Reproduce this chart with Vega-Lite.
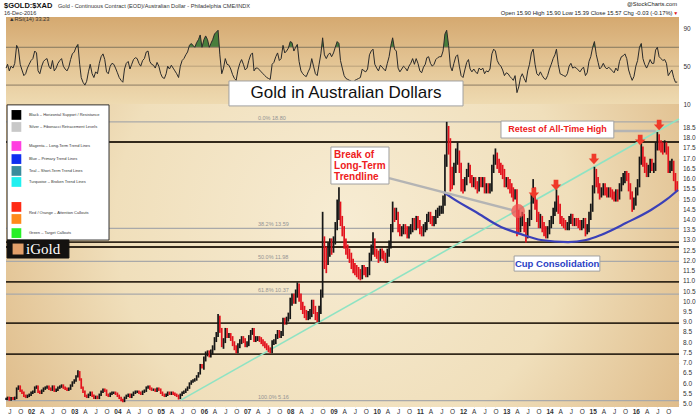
{
"$schema": "https://vega.github.io/schema/vega-lite/v6.json",
"background": "white",
"padding": {"left": 3, "top": 1, "right": 2, "bottom": 0},
"spacing": 0,
"bounds": "flush",
"config": {"font": "Liberation Sans", "view": {"stroke": null}, "axisY": {"labelOverlap": false, "labelSeparation": 0}},
"datasets": {
"px": [
{"d":"2001-06-04","l":5.19,"h":5.31,"u":1,"r":48},{"d":"2001-06-16","l":5.19,"h":5.36,"u":1,"r":52},{"d":"2001-07-01","l":5.16,"h":5.36,"u":0,"r":45},{"d":"2001-07-16","l":5.16,"h":5.34,"u":1,"r":50},{"d":"2001-08-01","l":5.19,"h":5.34,"u":0,"r":48},{"d":"2001-08-16","l":5.19,"h":5.36,"u":1,"r":53},{"d":"2001-09-01","l":5.24,"h":5.81,"u":1,"r":72},{"d":"2001-09-16","l":5.69,"h":5.91,"u":1,"r":68},{"d":"2001-10-01","l":5.59,"h":5.91,"u":0,"r":52},{"d":"2001-10-16","l":5.49,"h":5.71,"u":0,"r":46},{"d":"2001-11-01","l":5.34,"h":5.61,"u":0,"r":40},{"d":"2001-11-16","l":5.29,"h":5.46,"u":0,"r":42},{"d":"2001-12-01","l":5.29,"h":5.46,"u":1,"r":48},{"d":"2001-12-16","l":5.34,"h":5.51,"u":1,"r":52},
{"d":"2002-01-01","l":5.39,"h":5.61,"u":1,"r":56},{"d":"2002-01-16","l":5.49,"h":5.66,"u":1,"r":58},{"d":"2002-02-01","l":5.54,"h":5.86,"u":1,"r":66},{"d":"2002-02-16","l":5.74,"h":5.91,"u":1,"r":64},{"d":"2002-03-01","l":5.54,"h":5.91,"u":0,"r":45},{"d":"2002-03-16","l":5.49,"h":5.66,"u":0,"r":42},{"d":"2002-04-01","l":5.49,"h":5.71,"u":1,"r":50},{"d":"2002-04-16","l":5.59,"h":5.81,"u":1,"r":55},{"d":"2002-05-01","l":5.69,"h":5.86,"u":1,"r":57},{"d":"2002-05-16","l":5.74,"h":5.91,"u":1,"r":58},{"d":"2002-06-01","l":5.69,"h":5.91,"u":0,"r":50},{"d":"2002-06-16","l":5.64,"h":5.81,"u":0,"r":47},{"d":"2002-07-01","l":5.64,"h":5.91,"u":1,"r":56},{"d":"2002-07-16","l":5.59,"h":5.91,"u":0,"r":45},{"d":"2002-08-01","l":5.59,"h":5.76,"u":1,"r":48},{"d":"2002-08-16","l":5.64,"h":5.86,"u":1,"r":53},{"d":"2002-09-01","l":5.74,"h":5.91,"u":1,"r":56},{"d":"2002-09-16","l":5.79,"h":5.96,"u":1,"r":58},{"d":"2002-10-01","l":5.74,"h":5.96,"u":0,"r":50},{"d":"2002-10-16","l":5.69,"h":5.86,"u":0,"r":47},{"d":"2002-11-01","l":5.64,"h":5.81,"u":0,"r":45},{"d":"2002-11-16","l":5.64,"h":5.81,"u":1,"r":49},{"d":"2002-12-01","l":5.69,"h":5.96,"u":1,"r":57},{"d":"2002-12-16","l":5.84,"h":6.11,"u":1,"r":63},
{"d":"2003-01-01","l":5.99,"h":6.21,"u":1,"r":65},{"d":"2003-01-16","l":6.09,"h":6.41,"u":1,"r":70},{"d":"2003-02-01","l":6.29,"h":6.65,"u":1,"r":73},{"d":"2003-02-16","l":6.14,"h":6.61,"u":0,"r":52},{"d":"2003-03-01","l":5.74,"h":6.26,"u":0,"r":38},{"d":"2003-03-16","l":5.54,"h":5.86,"u":0,"r":33},{"d":"2003-04-01","l":5.34,"h":5.66,"u":0,"r":30},{"d":"2003-04-16","l":5.29,"h":5.46,"u":0,"r":34},{"d":"2003-05-01","l":5.29,"h":5.51,"u":1,"r":44},{"d":"2003-05-16","l":5.39,"h":5.61,"u":1,"r":52},{"d":"2003-06-01","l":5.34,"h":5.61,"u":0,"r":42},{"d":"2003-06-16","l":5.24,"h":5.46,"u":0,"r":38},{"d":"2003-07-01","l":5.24,"h":5.41,"u":1,"r":44},{"d":"2003-07-16","l":5.24,"h":5.41,"u":0,"r":42},{"d":"2003-08-01","l":5.24,"h":5.51,"u":1,"r":53},{"d":"2003-08-16","l":5.39,"h":5.66,"u":1,"r":60},{"d":"2003-09-01","l":5.54,"h":5.76,"u":1,"r":63},{"d":"2003-09-16","l":5.59,"h":5.76,"u":0,"r":57},{"d":"2003-10-01","l":5.39,"h":5.71,"u":0,"r":44},{"d":"2003-10-16","l":5.34,"h":5.51,"u":0,"r":42},{"d":"2003-11-01","l":5.34,"h":5.56,"u":1,"r":50},{"d":"2003-11-16","l":5.44,"h":5.61,"u":1,"r":53},{"d":"2003-12-01","l":5.49,"h":5.61,"u":1,"r":52},{"d":"2003-12-16","l":5.44,"h":5.61,"u":0,"r":48},
{"d":"2004-01-01","l":5.34,"h":5.56,"u":0,"r":43},{"d":"2004-01-16","l":5.24,"h":5.46,"u":0,"r":38},{"d":"2004-02-01","l":5.14,"h":5.36,"u":0,"r":35},{"d":"2004-02-16","l":5.09,"h":5.26,"u":0,"r":33},{"d":"2004-03-01","l":5.09,"h":5.36,"u":1,"r":47},{"d":"2004-03-16","l":5.24,"h":5.46,"u":1,"r":53},{"d":"2004-04-01","l":5.34,"h":5.51,"u":1,"r":55},{"d":"2004-04-16","l":5.29,"h":5.51,"u":0,"r":47},{"d":"2004-05-01","l":5.29,"h":5.51,"u":1,"r":52},{"d":"2004-05-16","l":5.39,"h":5.61,"u":1,"r":57},{"d":"2004-06-01","l":5.49,"h":5.66,"u":1,"r":59},{"d":"2004-06-16","l":5.54,"h":5.66,"u":1,"r":58},{"d":"2004-07-01","l":5.49,"h":5.66,"u":0,"r":53},{"d":"2004-07-16","l":5.44,"h":5.61,"u":0,"r":50},{"d":"2004-08-01","l":5.44,"h":5.66,"u":1,"r":56},{"d":"2004-08-16","l":5.54,"h":5.71,"u":1,"r":58},{"d":"2004-09-01","l":5.59,"h":5.86,"u":1,"r":65},{"d":"2004-09-16","l":5.74,"h":5.91,"u":1,"r":66},{"d":"2004-10-01","l":5.69,"h":5.91,"u":0,"r":55},{"d":"2004-10-16","l":5.64,"h":5.81,"u":0,"r":52},{"d":"2004-11-01","l":5.64,"h":5.76,"u":1,"r":51},{"d":"2004-11-16","l":5.59,"h":5.76,"u":0,"r":48},{"d":"2004-12-01","l":5.59,"h":5.81,"u":1,"r":54},{"d":"2004-12-16","l":5.64,"h":5.81,"u":0,"r":50},
{"d":"2005-01-01","l":5.49,"h":5.76,"u":0,"r":42},{"d":"2005-01-16","l":5.39,"h":5.61,"u":0,"r":38},{"d":"2005-02-01","l":5.34,"h":5.51,"u":0,"r":37},{"d":"2005-02-16","l":5.34,"h":5.51,"u":1,"r":42},{"d":"2005-03-01","l":5.39,"h":5.61,"u":1,"r":50},{"d":"2005-03-16","l":5.44,"h":5.61,"u":0,"r":47},{"d":"2005-04-01","l":5.44,"h":5.61,"u":1,"r":51},{"d":"2005-04-16","l":5.44,"h":5.61,"u":0,"r":48},{"d":"2005-05-01","l":5.39,"h":5.56,"u":0,"r":45},{"d":"2005-05-16","l":5.34,"h":5.51,"u":0,"r":42},{"d":"2005-06-01","l":5.22,"h":5.46,"u":0,"r":38},{"d":"2005-06-16","l":5.24,"h":5.51,"u":1,"r":50},{"d":"2005-07-01","l":5.39,"h":5.61,"u":1,"r":56},{"d":"2005-07-16","l":5.49,"h":5.66,"u":1,"r":58},{"d":"2005-08-01","l":5.54,"h":5.76,"u":1,"r":62},{"d":"2005-08-16","l":5.64,"h":5.86,"u":1,"r":65},{"d":"2005-09-01","l":5.74,"h":6.06,"u":1,"r":72},{"d":"2005-09-16","l":5.94,"h":6.16,"u":1,"r":74},{"d":"2005-10-01","l":6.04,"h":6.21,"u":1,"r":72},{"d":"2005-10-16","l":6.09,"h":6.26,"u":1,"r":70},{"d":"2005-11-01","l":6.14,"h":6.41,"u":1,"r":75},{"d":"2005-11-16","l":6.29,"h":6.56,"u":1,"r":78},{"d":"2005-12-01","l":6.44,"h":6.96,"u":1,"r":83},{"d":"2005-12-16","l":6.74,"h":6.96,"u":0,"r":70},
{"d":"2006-01-01","l":6.68,"h":7.32,"u":1,"r":78},{"d":"2006-01-16","l":7.08,"h":7.57,"u":1,"r":82},{"d":"2006-02-01","l":7.33,"h":7.62,"u":1,"r":78},{"d":"2006-02-16","l":7.28,"h":7.62,"u":0,"r":70},{"d":"2006-03-01","l":7.28,"h":7.67,"u":1,"r":74},{"d":"2006-03-16","l":7.43,"h":7.87,"u":1,"r":78},{"d":"2006-04-01","l":7.63,"h":8.27,"u":1,"r":84},{"d":"2006-04-16","l":8.03,"h":8.52,"u":1,"r":86},{"d":"2006-05-01","l":8.28,"h":9.4,"u":1,"r":88},{"d":"2006-05-16","l":8.48,"h":9.32,"u":0,"r":62},{"d":"2006-06-01","l":7.78,"h":8.72,"u":0,"r":42},{"d":"2006-06-16","l":7.7,"h":8.22,"u":1,"r":48},{"d":"2006-07-01","l":7.98,"h":8.72,"u":1,"r":58},{"d":"2006-07-16","l":8.23,"h":8.72,"u":0,"r":52},{"d":"2006-08-01","l":8.23,"h":8.47,"u":1,"r":51},{"d":"2006-08-16","l":8.08,"h":8.47,"u":0,"r":47},{"d":"2006-09-01","l":7.83,"h":8.32,"u":0,"r":41},{"d":"2006-09-16","l":7.63,"h":8.07,"u":0,"r":37},{"d":"2006-10-01","l":7.48,"h":7.87,"u":0,"r":35},{"d":"2006-10-16","l":7.48,"h":7.97,"u":1,"r":46},{"d":"2006-11-01","l":7.73,"h":8.17,"u":1,"r":53},{"d":"2006-11-16","l":7.93,"h":8.32,"u":1,"r":57},{"d":"2006-12-01","l":7.98,"h":8.32,"u":0,"r":52},{"d":"2006-12-16","l":7.78,"h":8.22,"u":0,"r":46},
{"d":"2007-01-01","l":7.78,"h":8.07,"u":1,"r":48},{"d":"2007-01-16","l":7.83,"h":8.37,"u":1,"r":56},{"d":"2007-02-01","l":8.13,"h":8.62,"u":1,"r":62},{"d":"2007-02-16","l":8.38,"h":8.72,"u":1,"r":64},{"d":"2007-03-01","l":8.03,"h":8.72,"u":0,"r":45},{"d":"2007-03-16","l":8.03,"h":8.32,"u":1,"r":48},{"d":"2007-04-01","l":8.08,"h":8.32,"u":1,"r":48},{"d":"2007-04-16","l":8.03,"h":8.32,"u":0,"r":46},{"d":"2007-05-01","l":7.93,"h":8.27,"u":0,"r":44},{"d":"2007-05-16","l":7.83,"h":8.17,"u":0,"r":42},{"d":"2007-06-01","l":7.73,"h":8.07,"u":0,"r":40},{"d":"2007-06-16","l":7.63,"h":7.97,"u":0,"r":38},{"d":"2007-07-01","l":7.53,"h":7.87,"u":0,"r":37},{"d":"2007-07-16","l":7.48,"h":7.77,"u":0,"r":36},{"d":"2007-08-01","l":7.48,"h":8.12,"u":1,"r":52},{"d":"2007-08-16","l":7.88,"h":8.17,"u":1,"r":54},{"d":"2007-09-01","l":7.93,"h":8.42,"u":1,"r":60},{"d":"2007-09-16","l":8.18,"h":8.62,"u":1,"r":64},{"d":"2007-10-01","l":8.23,"h":8.62,"u":0,"r":56},{"d":"2007-10-16","l":8.23,"h":8.57,"u":1,"r":58},{"d":"2007-11-01","l":8.33,"h":9.22,"u":1,"r":72},{"d":"2007-11-16","l":8.88,"h":9.22,"u":0,"r":64},{"d":"2007-12-01","l":8.88,"h":9.27,"u":1,"r":66},{"d":"2007-12-16","l":9.03,"h":9.47,"u":1,"r":69},
{"d":"2008-01-01","l":9.15,"h":10.2,"u":1,"r":76},{"d":"2008-01-16","l":9.8,"h":10.4,"u":1,"r":75},{"d":"2008-02-01","l":9.9,"h":10.4,"u":0,"r":66},{"d":"2008-02-16","l":9.9,"h":10.6,"u":1,"r":70},{"d":"2008-03-01","l":10.2,"h":10.95,"u":1,"r":73},{"d":"2008-03-16","l":10.0,"h":10.9,"u":0,"r":55},{"d":"2008-04-01","l":9.6,"h":10.4,"u":0,"r":45},{"d":"2008-04-16","l":9.4,"h":10.0,"u":0,"r":42},{"d":"2008-05-01","l":9.2,"h":9.8,"u":0,"r":40},{"d":"2008-05-16","l":9.1,"h":9.6,"u":0,"r":39},{"d":"2008-06-01","l":9.1,"h":9.55,"u":1,"r":44},{"d":"2008-06-16","l":9.15,"h":9.65,"u":1,"r":48},{"d":"2008-07-01","l":9.25,"h":10.1,"u":1,"r":58},{"d":"2008-07-16","l":9.4,"h":10.1,"u":0,"r":50},{"d":"2008-08-01","l":9.1,"h":9.8,"u":0,"r":42},{"d":"2008-08-16","l":9.0,"h":9.5,"u":0,"r":40},{"d":"2008-09-01","l":9.0,"h":9.8,"u":1,"r":52},{"d":"2008-09-16","l":9.4,"h":10.6,"u":1,"r":63},{"d":"2008-10-01","l":10.2,"h":14.4,"u":1,"r":80},{"d":"2008-10-16","l":11.6,"h":13.2,"u":0,"r":62},{"d":"2008-11-01","l":11.4,"h":12.7,"u":0,"r":58},{"d":"2008-11-16","l":11.8,"h":12.9,"u":1,"r":62},{"d":"2008-12-01","l":12.2,"h":13.1,"u":1,"r":64},{"d":"2008-12-16","l":12.3,"h":13.1,"u":0,"r":60},
{"d":"2009-01-01","l":12.4,"h":13.2,"u":1,"r":64},{"d":"2009-01-16","l":12.8,"h":13.9,"u":1,"r":70},{"d":"2009-02-01","l":13.5,"h":15.0,"u":1,"r":76},{"d":"2009-02-16","l":14.0,"h":15.6,"u":1,"r":74},{"d":"2009-03-01","l":13.7,"h":14.9,"u":0,"r":56},{"d":"2009-03-16","l":13.2,"h":14.2,"u":0,"r":48},{"d":"2009-04-01","l":12.6,"h":13.7,"u":0,"r":40},{"d":"2009-04-16","l":12.3,"h":13.1,"u":0,"r":37},{"d":"2009-05-01","l":12.1,"h":12.8,"u":0,"r":36},{"d":"2009-05-16","l":11.9,"h":12.6,"u":0,"r":35},{"d":"2009-06-01","l":11.6,"h":12.4,"u":0,"r":34},{"d":"2009-06-16","l":11.4,"h":12.1,"u":0,"r":33},{"d":"2009-07-01","l":11.3,"h":11.9,"u":0,"r":35},{"d":"2009-07-16","l":11.2,"h":11.8,"u":0,"r":36},{"d":"2009-08-01","l":11.1,"h":11.7,"u":0,"r":37},{"d":"2009-08-16","l":11.05,"h":11.6,"u":0,"r":38},{"d":"2009-09-01","l":11.1,"h":11.8,"u":1,"r":47},{"d":"2009-09-16","l":11.3,"h":11.8,"u":0,"r":45},{"d":"2009-10-01","l":11.2,"h":11.7,"u":0,"r":44},{"d":"2009-10-16","l":11.2,"h":11.7,"u":1,"r":47},{"d":"2009-11-01","l":11.3,"h":12.4,"u":1,"r":62},{"d":"2009-11-16","l":12.0,"h":12.8,"u":1,"r":66},{"d":"2009-12-01","l":12.3,"h":13.4,"u":1,"r":68},{"d":"2009-12-16","l":12.2,"h":13.1,"u":0,"r":52},
{"d":"2010-01-01","l":12.1,"h":12.6,"u":0,"r":48},{"d":"2010-01-16","l":11.9,"h":12.5,"u":0,"r":45},{"d":"2010-02-01","l":12.0,"h":12.6,"u":1,"r":51},{"d":"2010-02-16","l":12.1,"h":12.6,"u":0,"r":49},{"d":"2010-03-01","l":12.0,"h":12.5,"u":0,"r":47},{"d":"2010-03-16","l":11.9,"h":12.4,"u":0,"r":45},{"d":"2010-04-01","l":11.9,"h":12.6,"u":1,"r":53},{"d":"2010-04-16","l":12.2,"h":13.0,"u":1,"r":60},{"d":"2010-05-01","l":12.6,"h":13.8,"u":1,"r":72},{"d":"2010-05-16","l":13.4,"h":14.9,"u":1,"r":80},{"d":"2010-06-01","l":13.9,"h":14.6,"u":0,"r":68},{"d":"2010-06-16","l":14.0,"h":14.6,"u":1,"r":66},{"d":"2010-07-01","l":13.4,"h":14.4,"u":0,"r":48},{"d":"2010-07-16","l":13.2,"h":13.8,"u":0,"r":44},{"d":"2010-08-01","l":13.2,"h":13.7,"u":1,"r":47},{"d":"2010-08-16","l":13.3,"h":13.8,"u":1,"r":50},{"d":"2010-09-01","l":13.3,"h":13.8,"u":0,"r":48},{"d":"2010-09-16","l":13.1,"h":13.7,"u":0,"r":45},{"d":"2010-10-01","l":13.1,"h":13.7,"u":1,"r":50},{"d":"2010-10-16","l":13.3,"h":13.8,"u":1,"r":53},{"d":"2010-11-01","l":13.4,"h":14.1,"u":1,"r":58},{"d":"2010-11-16","l":13.5,"h":14.1,"u":0,"r":52},{"d":"2010-12-01","l":13.5,"h":14.2,"u":1,"r":58},{"d":"2010-12-16","l":13.6,"h":14.2,"u":0,"r":53},
{"d":"2011-01-01","l":13.3,"h":14.0,"u":0,"r":45},{"d":"2011-01-16","l":13.2,"h":13.7,"u":0,"r":43},{"d":"2011-02-01","l":13.2,"h":13.8,"u":1,"r":49},{"d":"2011-02-16","l":13.4,"h":13.9,"u":1,"r":52},{"d":"2011-03-01","l":13.5,"h":14.3,"u":1,"r":59},{"d":"2011-03-16","l":13.9,"h":14.4,"u":1,"r":60},{"d":"2011-04-01","l":13.8,"h":14.4,"u":0,"r":53},{"d":"2011-04-16","l":13.7,"h":14.2,"u":0,"r":50},{"d":"2011-05-01","l":13.7,"h":14.2,"u":1,"r":52},{"d":"2011-05-16","l":13.8,"h":14.5,"u":1,"r":57},{"d":"2011-06-01","l":14.1,"h":14.6,"u":1,"r":59},{"d":"2011-06-16","l":14.2,"h":14.7,"u":1,"r":60},{"d":"2011-07-01","l":14.3,"h":14.7,"u":1,"r":60},{"d":"2011-07-16","l":14.3,"h":15.2,"u":1,"r":66},{"d":"2011-08-01","l":14.7,"h":17.2,"u":1,"r":84},{"d":"2011-08-16","l":16.6,"h":18.8,"u":1,"r":88},{"d":"2011-09-01","l":17.2,"h":18.6,"u":0,"r":72},{"d":"2011-09-16","l":15.4,"h":18.0,"u":0,"r":50},{"d":"2011-10-01","l":15.5,"h":16.6,"u":0,"r":45},{"d":"2011-10-16","l":15.7,"h":16.8,"u":1,"r":53},{"d":"2011-11-01","l":16.3,"h":17.5,"u":1,"r":60},{"d":"2011-11-16","l":16.7,"h":17.8,"u":1,"r":62},{"d":"2011-12-01","l":16.3,"h":17.4,"u":0,"r":50},{"d":"2011-12-16","l":15.4,"h":16.8,"u":0,"r":40},
{"d":"2012-01-01","l":15.3,"h":16.0,"u":0,"r":38},{"d":"2012-01-16","l":15.4,"h":16.1,"u":1,"r":46},{"d":"2012-02-01","l":15.7,"h":16.5,"u":1,"r":54},{"d":"2012-02-16","l":16.1,"h":16.8,"u":1,"r":57},{"d":"2012-03-01","l":15.8,"h":16.7,"u":0,"r":47},{"d":"2012-03-16","l":15.6,"h":16.2,"u":0,"r":44},{"d":"2012-04-01","l":15.6,"h":16.1,"u":1,"r":47},{"d":"2012-04-16","l":15.5,"h":16.1,"u":0,"r":44},{"d":"2012-05-01","l":15.3,"h":15.9,"u":0,"r":42},{"d":"2012-05-16","l":15.4,"h":16.1,"u":1,"r":48},{"d":"2012-06-01","l":15.6,"h":16.1,"u":0,"r":46},{"d":"2012-06-16","l":15.6,"h":16.1,"u":1,"r":48},{"d":"2012-07-01","l":15.3,"h":16.1,"u":0,"r":42},{"d":"2012-07-16","l":15.3,"h":15.8,"u":1,"r":45},{"d":"2012-08-01","l":15.3,"h":15.8,"u":0,"r":44},{"d":"2012-08-16","l":15.3,"h":15.8,"u":1,"r":47},{"d":"2012-09-01","l":15.4,"h":16.7,"u":1,"r":63},{"d":"2012-09-16","l":16.3,"h":17.2,"u":1,"r":68},{"d":"2012-10-01","l":16.7,"h":17.5,"u":1,"r":66},{"d":"2012-10-16","l":16.5,"h":17.3,"u":0,"r":56},{"d":"2012-11-01","l":16.3,"h":17.0,"u":0,"r":52},{"d":"2012-11-16","l":16.2,"h":16.8,"u":0,"r":50},{"d":"2012-12-01","l":16.0,"h":16.7,"u":0,"r":46},{"d":"2012-12-16","l":15.6,"h":16.5,"u":0,"r":40},
{"d":"2013-01-01","l":15.6,"h":16.1,"u":1,"r":43},{"d":"2013-01-16","l":15.5,"h":16.1,"u":0,"r":42},{"d":"2013-02-01","l":15.3,"h":16.0,"u":0,"r":39},{"d":"2013-02-16","l":15.1,"h":15.8,"u":0,"r":37},{"d":"2013-03-01","l":14.9,"h":15.6,"u":0,"r":35},{"d":"2013-03-16","l":15.0,"h":15.5,"u":1,"r":40},{"d":"2013-04-01","l":13.2,"h":15.5,"u":0,"r":22},{"d":"2013-04-16","l":13.3,"h":14.5,"u":0,"r":28},{"d":"2013-05-01","l":13.4,"h":14.2,"u":1,"r":38},{"d":"2013-05-16","l":13.7,"h":14.4,"u":1,"r":42},{"d":"2013-06-01","l":13.4,"h":14.3,"u":0,"r":37},{"d":"2013-06-16","l":12.9,"h":13.9,"u":0,"r":33},{"d":"2013-07-01","l":13.1,"h":14.1,"u":1,"r":45},{"d":"2013-07-16","l":13.7,"h":14.5,"u":1,"r":52},{"d":"2013-08-01","l":14.0,"h":15.3,"u":1,"r":64},{"d":"2013-08-16","l":14.8,"h":16.0,"u":1,"r":68},{"d":"2013-09-01","l":14.5,"h":15.6,"u":0,"r":52},{"d":"2013-09-16","l":13.9,"h":15.0,"u":0,"r":42},{"d":"2013-10-01","l":13.6,"h":14.4,"u":0,"r":40},{"d":"2013-10-16","l":13.6,"h":14.3,"u":1,"r":44},{"d":"2013-11-01","l":13.4,"h":14.2,"u":0,"r":40},{"d":"2013-11-16","l":13.2,"h":13.9,"u":0,"r":37},{"d":"2013-12-01","l":13.1,"h":13.7,"u":0,"r":36},{"d":"2013-12-16","l":13.1,"h":13.7,"u":1,"r":40},
{"d":"2014-01-01","l":13.3,"h":14.0,"u":1,"r":47},{"d":"2014-01-16","l":13.6,"h":14.2,"u":1,"r":52},{"d":"2014-02-01","l":13.8,"h":14.6,"u":1,"r":58},{"d":"2014-02-16","l":14.2,"h":14.9,"u":1,"r":62},{"d":"2014-03-01","l":14.4,"h":15.5,"u":1,"r":68},{"d":"2014-03-16","l":14.3,"h":15.2,"u":0,"r":52},{"d":"2014-04-01","l":13.8,"h":14.8,"u":0,"r":42},{"d":"2014-04-16","l":13.7,"h":14.2,"u":0,"r":41},{"d":"2014-05-01","l":13.6,"h":14.1,"u":0,"r":40},{"d":"2014-05-16","l":13.5,"h":14.0,"u":0,"r":39},{"d":"2014-06-01","l":13.5,"h":13.9,"u":1,"r":42},{"d":"2014-06-16","l":13.5,"h":14.2,"u":1,"r":50},{"d":"2014-07-01","l":13.8,"h":14.3,"u":1,"r":53},{"d":"2014-07-16","l":13.7,"h":14.3,"u":0,"r":48},{"d":"2014-08-01","l":13.7,"h":14.1,"u":1,"r":49},{"d":"2014-08-16","l":13.7,"h":14.1,"u":0,"r":48},{"d":"2014-09-01","l":13.6,"h":14.1,"u":0,"r":46},{"d":"2014-09-16","l":13.5,"h":14.0,"u":0,"r":44},{"d":"2014-10-01","l":13.5,"h":14.0,"u":1,"r":47},{"d":"2014-10-16","l":13.6,"h":14.1,"u":1,"r":49},{"d":"2014-11-01","l":13.2,"h":14.1,"u":0,"r":40},{"d":"2014-11-16","l":13.3,"h":13.8,"u":1,"r":43},{"d":"2014-12-01","l":13.4,"h":14.4,"u":1,"r":55},{"d":"2014-12-16","l":14.0,"h":14.8,"u":1,"r":60},
{"d":"2015-01-01","l":14.4,"h":15.7,"u":1,"r":70},{"d":"2015-01-16","l":15.3,"h":16.6,"u":1,"r":76},{"d":"2015-02-01","l":15.6,"h":16.5,"u":0,"r":62},{"d":"2015-02-16","l":15.3,"h":16.1,"u":0,"r":54},{"d":"2015-03-01","l":15.0,"h":15.8,"u":0,"r":47},{"d":"2015-03-16","l":15.1,"h":15.6,"u":1,"r":49},{"d":"2015-04-01","l":15.2,"h":15.8,"u":1,"r":53},{"d":"2015-04-16","l":15.2,"h":15.8,"u":0,"r":49},{"d":"2015-05-01","l":15.1,"h":15.6,"u":0,"r":47},{"d":"2015-05-16","l":15.1,"h":15.6,"u":1,"r":49},{"d":"2015-06-01","l":15.1,"h":15.6,"u":0,"r":47},{"d":"2015-06-16","l":15.0,"h":15.5,"u":0,"r":45},{"d":"2015-07-01","l":14.9,"h":15.4,"u":0,"r":43},{"d":"2015-07-16","l":14.9,"h":15.5,"u":1,"r":48},{"d":"2015-08-01","l":14.9,"h":15.5,"u":0,"r":45},{"d":"2015-08-16","l":15.0,"h":15.8,"u":1,"r":55},{"d":"2015-09-01","l":15.4,"h":16.1,"u":1,"r":60},{"d":"2015-09-16","l":15.7,"h":16.3,"u":1,"r":61},{"d":"2015-10-01","l":15.8,"h":16.4,"u":1,"r":63},{"d":"2015-10-16","l":15.9,"h":16.4,"u":0,"r":58},{"d":"2015-11-01","l":15.4,"h":16.3,"u":0,"r":46},{"d":"2015-11-16","l":15.0,"h":15.8,"u":0,"r":40},{"d":"2015-12-01","l":14.4,"h":15.4,"u":0,"r":35},{"d":"2015-12-16","l":14.5,"h":15.1,"u":1,"r":39},
{"d":"2016-01-01","l":14.7,"h":15.6,"u":1,"r":50},{"d":"2016-01-16","l":15.2,"h":16.0,"u":1,"r":56},{"d":"2016-02-01","l":15.6,"h":17.1,"u":1,"r":70},{"d":"2016-02-16","l":16.7,"h":17.8,"u":1,"r":74},{"d":"2016-03-01","l":16.6,"h":17.6,"u":0,"r":58},{"d":"2016-03-16","l":16.3,"h":17.1,"u":0,"r":52},{"d":"2016-04-01","l":16.1,"h":16.8,"u":0,"r":48},{"d":"2016-04-16","l":16.1,"h":16.7,"u":1,"r":52},{"d":"2016-05-01","l":16.3,"h":17.0,"u":1,"r":57},{"d":"2016-05-16","l":16.4,"h":17.0,"u":0,"r":53},{"d":"2016-06-01","l":16.3,"h":16.8,"u":1,"r":53},{"d":"2016-06-16","l":16.4,"h":17.8,"u":1,"r":67},{"d":"2016-07-01","l":17.4,"h":18.3,"u":1,"r":70},{"d":"2016-07-16","l":17.4,"h":18.2,"u":0,"r":60},{"d":"2016-08-01","l":17.3,"h":17.9,"u":0,"r":58},{"d":"2016-08-16","l":17.2,"h":17.8,"u":0,"r":56},{"d":"2016-09-01","l":17.3,"h":17.9,"u":1,"r":57},{"d":"2016-09-16","l":17.2,"h":17.8,"u":0,"r":53},{"d":"2016-10-01","l":16.3,"h":17.6,"u":0,"r":40},{"d":"2016-10-16","l":16.3,"h":16.9,"u":1,"r":43},{"d":"2016-11-01","l":16.4,"h":17.0,"u":1,"r":46},{"d":"2016-11-16","l":15.9,"h":16.9,"u":0,"r":38},{"d":"2016-12-01","l":15.4,"h":16.3,"u":0,"r":33},{"d":"2016-12-16","l":15.39,"h":15.9,"u":0,"r":33.23}
],
"hl": [{"v":17.815},{"v":12.92},{"v":12.68},{"v":10.97},{"v":8.96},{"v":7.44}],
"fib": [{"v":18.8,"t":"0.0% 18.80"},{"v":13.59,"t":"38.2% 13.59"},{"v":11.98,"t":"50.0% 11.98"},{"v":10.37,"t":"61.8% 10.37"},{"v":5.16,"t":"100.0% 5.16"}],
"trend": [{"d":"2005-06-20","v":5.19},{"d":"2016-12-31","v":18.94}],
"cup": [{"d":"2011-07-22","v":15.37},{"d":"2011-09-20","v":15.12},{"d":"2012-04-19","v":14.39},{"d":"2012-11-17","v":13.66},{"d":"2013-05-05","v":13.31},{"d":"2013-10-22","v":13.02},{"d":"2014-06-07","v":12.92},{"d":"2014-11-05","v":13.02},{"d":"2015-03-12","v":13.27},{"d":"2015-10-09","v":13.85},{"d":"2016-05-08","v":14.49},{"d":"2016-09-12","v":14.98},{"d":"2016-12-23","v":15.47}],
"ptr": [{"d":"2010-04-15","v":16.05,"d2":"2013-02-18","v2":14.49},{"d":"2015-06-29","v":18.35,"d2":"2016-06-17","v2":18.35}],
"circ": [{"d":"2013-04-11","v":14.44}],
"arrows": [{"d":"2013-08-22","v":15.32},{"d":"2014-02-25","v":15.71},{"d":"2015-01-12","v":16.98},{"d":"2016-02-07","v":17.91},{"d":"2016-07-16","v":18.65}],
"boxes": [{"d":"2006-08-01","d2":"2012-01-01","v":20.8,"v2":19.58},{"d":"2008-12-10","d2":"2010-04-15","v":17.57,"v2":15.76},{"d":"2012-11-17","d2":"2015-06-29","v":18.84,"v2":18.01},{"d":"2013-03-08","d2":"2015-03-03","v":12.24,"v2":11.5}],
"legbox": [{"d":"2001-06-12","d2":"2003-10-22","v":19.63,"v2":13.02}],
"igold": [{"d":"2001-06-12","d2":"2002-11-17","v":13.02,"v2":12.14}],
"legsq": [{"k":"Black","v":19.14},{"k":"Silver","v":18.55},{"k":"Magenta","v":17.62},{"k":"Blue","v":16.98},{"k":"Teal","v":16.4},{"k":"Turquoise","v":15.86},{"k":"Red","v":14.64},{"k":"Orange","v":14.05},{"k":"Green","v":13.36}],
"legtx": [{"v":19.14,"t":"Black – Horizontal Support / Resistance"},{"v":18.55,"t":"Silver – Fibonacci Retracement Levels"},{"v":17.62,"t":"Magenta – Long-Term Trend Lines"},{"v":16.98,"t":"Blue – Primary Trend Lines"},{"v":16.4,"t":"Teal – Short-Term Trend Lines"},{"v":15.86,"t":"Turquoise – Broken Trend Lines"},{"v":14.34,"t":"Red / Orange – Attention Callouts"},{"v":13.36,"t":"Green – Target Callouts"}],
"ttl": [{"d":"2009-04-17","v":20.19,"t":"Gold in Australian Dollars"}],
"redtx": [{"d":"2009-01-06","v":17.18,"t":"Break of"},{"d":"2009-01-06","v":16.64,"t":"Long-Term"},{"d":"2009-01-06","v":16.1,"t":"Trendline"}],
"retest": [{"d":"2014-03-10","v":18.43,"t":"Retest of All-Time High"}],
"cuptx": [{"d":"2014-03-07","v":11.87,"t":"Cup Consolidation"}],
"rsil": [{"v":70},{"v":30}],
"ylab": [{"v":5,"t":"5.0"},{"v":5.5,"t":"5.5"},{"v":6,"t":"6.0"},{"v":6.5,"t":"6.5"},{"v":7,"t":"7.0"},{"v":7.5,"t":"7.5"},{"v":8,"t":"8.0"},{"v":8.5,"t":"8.5"},{"v":9,"t":"9.0"},{"v":9.5,"t":"9.5"},{"v":10,"t":"10.0"},{"v":10.5,"t":"10.5"},{"v":11,"t":"11.0"},{"v":11.5,"t":"11.5"},{"v":12,"t":"12.0"},{"v":12.5,"t":"12.5"},{"v":13,"t":"13.0"},{"v":13.5,"t":"13.5"},{"v":14,"t":"14.0"},{"v":14.5,"t":"14.5"},{"v":15,"t":"15.0"},{"v":15.5,"t":"15.5"},{"v":16,"t":"16.0"},{"v":16.5,"t":"16.5"},{"v":17,"t":"17.0"},{"v":17.5,"t":"17.5"},{"v":18,"t":"18.0"},{"v":18.5,"t":"18.5"}],
"hdrB": [{"d":"2001-05-17","v":113.6,"t":"$GOLD:$XAD"}],
"hdr": [{"d":"2002-08-16","v":113.6,"t":"Gold - Continuous Contract (EOD)/Australian Dollar - Philadelphia CME/INDX"},{"d":"2001-05-17","v":106.2,"t":"16-Dec-2016"},{"d":"2001-06-28","v":100,"t":"▲RSI(14) 33.23"}],
"hdrR": [{"d":"2016-12-14","v":115.7,"t":"@StockCharts.com"},{"d":"2016-11-06","v":106.2,"t":"Open 15.90  High 15.90  Low 15.39  Close 15.57  Chg -0.03 (-0.17%)"}],
"tri": [{"d":"2016-12-24","v":106.2,"t":"▼"}]
},
"vconcat": [
{
"width": 673, "height": 87,
"layer": [
{"data": {"values": [{}]},
 "mark": {"type": "rect", "fill": {"gradient": "linear", "x1": 0, "y1": 0, "x2": 0, "y2": 1, "stops": [{"offset": 0, "color": "#d5a970"}, {"offset": 1, "color": "#eedab1"}]}},
 "encoding": {
  "x": {"datum": {"year": 2001, "month": 6, "date": 3, "utc": true}, "type": "temporal", "title": null,
        "scale": {"type": "utc", "domain": [{"year": 2001, "month": 6, "date": 3, "utc": true}, {"year": 2016, "month": 12, "date": 31, "utc": true}]},
        "axis": {"title": null, "labels": false, "ticks": false, "domain": false, "grid": true, "gridColor": "#b88f58", "gridOpacity": 0.2, "tickCount": {"interval": "month", "step": 3}}},
  "x2": {"datum": {"year": 2016, "month": 12, "date": 31, "utc": true}},
  "y": {"datum": 102, "type": "quantitative", "title": null, "scale": {"domain": [10, 102], "nice": false, "zero": false},
        "axis": {"title": null, "orient": "right", "values": [10, 30, 50, 70, 90], "labelFontSize": 6.5, "labelColor": "#333", "labelPadding": 4, "labelOverlap": false, "grid": false, "domain": false, "ticks": false}},
  "y2": {"datum": 10}}},
{"data": {"name": "px"}, "mark": {"type": "area", "color": "#3f7a38", "opacity": 0.95},
 "encoding": {"x": {"field": "d", "type": "temporal", "title": null}, "y": {"field": "r", "type": "quantitative", "title": null}, "y2": {"datum": 70}}},
{"data": {"values": [{}]},
 "mark": {"type": "rect", "fill": {"gradient": "linear", "x1": 0, "y1": 0, "x2": 0, "y2": 1, "stops": [{"offset": 0, "color": "#dfbc89"}, {"offset": 1, "color": "#eedab1"}]}},
 "encoding": {"x": {"datum": {"year": 2001, "month": 6, "date": 3, "utc": true}, "type": "temporal", "title": null}, "x2": {"datum": {"year": 2016, "month": 12, "date": 31, "utc": true}}, "y": {"datum": 70, "type": "quantitative", "title": null}, "y2": {"datum": 10}}},
{"data": {"name": "rsil"}, "mark": {"type": "rule", "color": "#8a7a62", "strokeWidth": 1},
 "encoding": {"y": {"field": "v", "type": "quantitative", "title": null}}},
{"data": {"values": [{"v": 50}]}, "mark": {"type": "rule", "color": "#b8a07a", "strokeWidth": 1},
 "encoding": {"y": {"field": "v", "type": "quantitative", "title": null}}},
{"data": {"name": "px"}, "mark": {"type": "line", "color": "#2a2a2a", "strokeWidth": 1},
 "encoding": {"x": {"field": "d", "type": "temporal", "title": null}, "y": {"field": "r", "type": "quantitative", "title": null}}},
{"data": {"name": "hdrB"}, "mark": {"type": "text", "align": "left", "baseline": "middle", "fontSize": 7.5, "fontWeight": "bold", "color": "#111"},
 "encoding": {"x": {"field": "d", "type": "temporal", "title": null}, "y": {"field": "v", "type": "quantitative", "title": null}, "text": {"field": "t"}}},
{"data": {"name": "hdr"}, "mark": {"type": "text", "align": "left", "baseline": "middle", "fontSize": 5.6, "color": "#333"},
 "encoding": {"x": {"field": "d", "type": "temporal", "title": null}, "y": {"field": "v", "type": "quantitative", "title": null}, "text": {"field": "t"}}},
{"data": {"name": "hdrR"}, "mark": {"type": "text", "align": "right", "baseline": "middle", "fontSize": 5.8, "color": "#222"},
 "encoding": {"x": {"field": "d", "type": "temporal", "title": null}, "y": {"field": "v", "type": "quantitative", "title": null}, "text": {"field": "t"}}},
{"data": {"name": "tri"}, "mark": {"type": "text", "align": "right", "baseline": "middle", "fontSize": 5, "color": "#dd1111"},
 "encoding": {"x": {"field": "d", "type": "temporal", "title": null}, "y": {"field": "v", "type": "quantitative", "title": null}, "text": {"field": "t"}}}
]
},
{
"width": 673, "height": 303,
"resolve": {"scale": {"color": "independent"}},
"layer": [
{"data": {"values": [{}]},
 "mark": {"type": "rect", "fill": {"gradient": "radial", "x1": 0.5, "y1": 0.45, "x2": 0.5, "y2": 0.45, "r1": 0, "r2": 0.75, "stops": [{"offset": 0, "color": "#f7ecd3"}, {"offset": 0.45, "color": "#f0dfbb"}, {"offset": 1, "color": "#d2a266"}]}},
 "encoding": {
  "x": {"datum": {"year": 2001, "month": 6, "date": 3, "utc": true}, "type": "temporal", "title": null,
        "scale": {"type": "utc", "domain": [{"year": 2001, "month": 6, "date": 3, "utc": true}, {"year": 2016, "month": 12, "date": 31, "utc": true}]},
        "axis": {"title": null, "orient": "bottom", "tickCount": {"interval": "month", "step": 3},
                 "labelExpr": "utcmonth(datum.value) == 0 ? utcFormat(datum.value, '%y') : slice(utcFormat(datum.value, '%b'), 0, 1)",
                 "labelFontWeight": {"condition": {"test": "utcmonth(datum.value) == 0", "value": "bold"}, "value": "normal"},
                 "labelFontSize": 6.5, "labelColor": "#333", "labelPadding": 1, "labelFlush": false, "labelOverlap": false,
                 "grid": true, "gridColor": "#b88f58", "gridOpacity": 0.22, "domain": false, "ticks": false}},
  "x2": {"datum": {"year": 2016, "month": 12, "date": 31, "utc": true}},
  "y": {"datum": 19.674, "type": "quantitative", "title": null, "scale": {"domain": [4.853, 19.674], "nice": false, "zero": false},
        "axis": {"title": null, "orient": "right", "values": [5, 5.5, 6, 6.5, 7, 7.5, 8, 8.5, 9, 9.5, 10, 10.5, 11, 11.5, 12, 12.5, 13, 13.5, 14, 14.5, 15, 15.5, 16, 16.5, 17, 17.5, 18, 18.5],
                 "labels": false, "grid": true, "gridColor": "#b88f58", "gridOpacity": 0.15, "domain": false, "ticks": false}},
  "y2": {"datum": 4.853}}},
{"data": {"name": "ylab"}, "mark": {"type": "text", "align": "left", "baseline": "middle", "dx": 4, "fontSize": 6.5, "color": "#333"},
 "encoding": {"x": {"datum": {"year": 2016, "month": 12, "date": 31, "utc": true}, "type": "temporal", "title": null}, "y": {"field": "v", "type": "quantitative", "title": null}, "text": {"field": "t"}}},
{"data": {"name": "fib"}, "mark": {"type": "rule", "color": "#a9a9a9", "strokeWidth": 1.2},
 "encoding": {"y": {"field": "v", "type": "quantitative", "title": null}}},
{"data": {"name": "hl"}, "mark": {"type": "rule", "color": "#33291b", "strokeWidth": 1.8},
 "encoding": {"y": {"field": "v", "type": "quantitative", "title": null}}},
{"data": {"name": "fib"}, "mark": {"type": "text", "align": "left", "baseline": "bottom", "dy": -1, "fontSize": 5.5, "color": "#949494"},
 "encoding": {"x": {"datum": {"year": 2007, "month": 4, "date": 3, "utc": true}, "type": "temporal", "title": null}, "y": {"field": "v", "type": "quantitative", "title": null}, "text": {"field": "t"}}},
{"data": {"name": "trend"}, "mark": {"type": "line", "color": "#8fe3c3", "strokeWidth": 1.6},
 "encoding": {"x": {"field": "d", "type": "temporal", "title": null}, "y": {"field": "v", "type": "quantitative", "title": null}}},
{"data": {"name": "px"}, "mark": {"type": "rule", "strokeWidth": 1.7},
 "encoding": {"x": {"field": "d", "type": "temporal", "title": null}, "y": {"field": "l", "type": "quantitative", "title": null}, "y2": {"field": "h"},
  "color": {"field": "u", "type": "nominal", "scale": {"domain": [0, 1], "range": ["#e3121d", "#161616"]}, "legend": null}}},
{"data": {"name": "cup"}, "mark": {"type": "line", "color": "#3a40b8", "strokeWidth": 2.2, "interpolate": "monotone"},
 "encoding": {"x": {"field": "d", "type": "temporal", "title": null}, "y": {"field": "v", "type": "quantitative", "title": null}}},
{"data": {"name": "ptr"}, "mark": {"type": "rule", "color": "#b4b4b4", "strokeWidth": 2.5},
 "encoding": {"x": {"field": "d", "type": "temporal", "title": null}, "y": {"field": "v", "type": "quantitative", "title": null}, "x2": {"field": "d2"}, "y2": {"field": "v2"}}},
{"data": {"name": "circ"}, "mark": {"type": "point", "shape": "circle", "filled": true, "size": 190, "color": "#ef4f4f", "opacity": 0.75},
 "encoding": {"x": {"field": "d", "type": "temporal", "title": null}, "y": {"field": "v", "type": "quantitative", "title": null}}},
{"data": {"name": "arrows"}, "mark": {"type": "point", "shape": "M-0.45,-1L0.45,-1L0.45,-0.1L1,-0.1L0,1L-1,-0.1L-0.45,-0.1Z", "filled": true, "size": 110, "color": "#f03a2a", "opacity": 1},
 "encoding": {"x": {"field": "d", "type": "temporal", "title": null}, "y": {"field": "v", "type": "quantitative", "title": null}}},
{"data": {"name": "boxes"}, "mark": {"type": "rect", "fill": "#ffffff", "stroke": "#a0a0a0", "strokeWidth": 1},
 "encoding": {"x": {"field": "d", "type": "temporal", "title": null}, "x2": {"field": "d2"}, "y": {"field": "v", "type": "quantitative", "title": null}, "y2": {"field": "v2"}}},
{"data": {"name": "ttl"}, "mark": {"type": "text", "align": "center", "baseline": "middle", "fontSize": 17, "color": "#111"},
 "encoding": {"x": {"field": "d", "type": "temporal", "title": null}, "y": {"field": "v", "type": "quantitative", "title": null}, "text": {"field": "t"}}},
{"data": {"name": "redtx"}, "mark": {"type": "text", "align": "left", "baseline": "middle", "fontSize": 10, "fontWeight": "bold", "color": "#ee2020"},
 "encoding": {"x": {"field": "d", "type": "temporal", "title": null}, "y": {"field": "v", "type": "quantitative", "title": null}, "text": {"field": "t"}}},
{"data": {"name": "retest"}, "mark": {"type": "text", "align": "center", "baseline": "middle", "fontSize": 9, "fontWeight": "bold", "color": "#ee2020"},
 "encoding": {"x": {"field": "d", "type": "temporal", "title": null}, "y": {"field": "v", "type": "quantitative", "title": null}, "text": {"field": "t"}}},
{"data": {"name": "cuptx"}, "mark": {"type": "text", "align": "center", "baseline": "middle", "fontSize": 9.5, "fontWeight": "bold", "color": "#2b3fc4"},
 "encoding": {"x": {"field": "d", "type": "temporal", "title": null}, "y": {"field": "v", "type": "quantitative", "title": null}, "text": {"field": "t"}}},
{"data": {"name": "legbox"}, "mark": {"type": "rect", "fill": "#ffffff", "stroke": "#333333", "strokeWidth": 1},
 "encoding": {"x": {"field": "d", "type": "temporal", "title": null}, "x2": {"field": "d2"}, "y": {"field": "v", "type": "quantitative", "title": null}, "y2": {"field": "v2"}}},
{"data": {"name": "legsq"}, "mark": {"type": "point", "shape": "square", "filled": true, "size": 95, "opacity": 1},
 "encoding": {"x": {"datum": {"year": 2001, "month": 8, "date": 30, "utc": true}, "type": "temporal", "title": null}, "y": {"field": "v", "type": "quantitative", "title": null},
  "color": {"field": "k", "type": "nominal", "legend": null, "scale": {"domain": ["Black", "Silver", "Magenta", "Blue", "Teal", "Turquoise", "Red", "Orange", "Green"], "range": ["#000000", "#c8c8c8", "#ff3ee0", "#1030f0", "#3a8c9c", "#20f0f0", "#ff2a14", "#ff8a1a", "#28f028"]}}}},
{"data": {"name": "legtx"}, "mark": {"type": "text", "align": "left", "baseline": "middle", "fontSize": 4, "color": "#333"},
 "encoding": {"x": {"datum": {"year": 2001, "month": 12, "date": 14, "utc": true}, "type": "temporal", "title": null}, "y": {"field": "v", "type": "quantitative", "title": null}, "text": {"field": "t"}}},
{"data": {"name": "igold"}, "mark": {"type": "rect", "fill": "#141210", "stroke": "#141210"},
 "encoding": {"x": {"field": "d", "type": "temporal", "title": null}, "x2": {"field": "d2"}, "y": {"field": "v", "type": "quantitative", "title": null}, "y2": {"field": "v2"}}},
{"data": {"values": [{"v": 12.58}]}, "mark": {"type": "point", "shape": "square", "filled": true, "size": 120, "color": "#e3a06a", "opacity": 1},
 "encoding": {"x": {"datum": {"year": 2001, "month": 9, "date": 13, "utc": true}, "type": "temporal", "title": null}, "y": {"field": "v", "type": "quantitative", "title": null}}},
{"data": {"values": [{"v": 12.56, "t": "iGold"}]}, "mark": {"type": "text", "align": "left", "baseline": "middle", "fontSize": 15, "font": "Liberation Serif", "color": "#ffffff"},
 "encoding": {"x": {"datum": {"year": 2001, "month": 11, "date": 19, "utc": true}, "type": "temporal", "title": null}, "y": {"field": "v", "type": "quantitative", "title": null}, "text": {"field": "t"}}}
]
}
]
}
